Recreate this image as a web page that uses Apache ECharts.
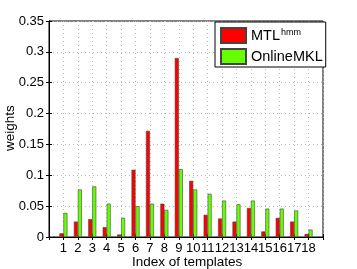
<!DOCTYPE html>
<html><head><meta charset="utf-8">
<script src="https://cdn.jsdelivr.net/npm/echarts@6/dist/echarts.min.js"></script>
<style>html,body{margin:0;padding:0;background:#fff}#c{width:357px;height:269px}</style>
</head><body><div id="c"></div>
<script>
const categories = [1,2,3,4,5,6,7,8,9,10,11,12,13,14,15,16,17,18];
const mtlHmm = [0.006,0.025,0.029,0.016,0.004,0.109,0.172,0.054,0.290,0.091,0.036,0.030,0.025,0.047,0.009,0.031,0.025,0.005];
const onlineMKL = [0.039,0.077,0.082,0.054,0.031,0.050,0.054,0.044,0.110,0.077,0.070,0.059,0.053,0.059,0.046,0.046,0.043,0.012];
const yTicks = [0,0.05,0.1,0.15,0.2,0.25,0.3,0.35];
const xTitle = 'Index of templates';
const yTitle = 'weights';

const font = '"Liberation Sans", Arial, sans-serif';
const chart = echarts.init(document.getElementById('c'), null, {renderer:'canvas'});
const pairs = arr => categories.map((c,i)=>[c, arr[i]]);
const dotted = {show:true, lineStyle:{color:'#bbb', type:[1,3], width:1}};
chart.setOption({
  animation:false,
  backgroundColor:'#fff',
  grid:{left:49, right:34, top:21, bottom:32, containLabel:false, outerBoundsMode:'none',
    show:true, borderColor:'#000', borderWidth:1, backgroundColor:'transparent'},
  graphic:[
    {type:'text', left:132, top:255, style:{text:xTitle, fontFamily:font, fontSize:13.5, fill:'#000'}},
    {type:'text', rotation:Math.PI/2, x:3, y:151, style:{text:yTitle, fontFamily:font, fontSize:13.5, fill:'#000'}}
  ],
  legend:{
    orient:'vertical', left:215, top:22, padding:[5,3,2,5], itemGap:3,
    itemWidth:25, itemHeight:15, icon:'rect',
    borderColor:'#000', borderWidth:1, backgroundColor:'#fff', borderRadius:0,
    textStyle:{fontFamily:font, fontSize:14.5, color:'#000',
      rich:{a:{fontFamily:font,fontSize:14.5,color:'#000',lineHeight:15},
            s:{fontFamily:font,fontSize:9,color:'#000',verticalAlign:'top',lineHeight:9,padding:[0,0,8,1]}}},
    formatter: n => n==='MTL' ? '{a|MTL}{s|hmm}' : '{a|'+n+'}',
    data:['MTL','OnlineMKL']
  },
  xAxis:[{
    type:'value', min:0, max:19, interval:1,
    axisLine:{show:true, lineStyle:{color:'#000'}},
    axisTick:{show:true, inside:true, length:3, lineStyle:{color:'#000'}},
    axisLabel:{fontFamily:font, fontSize:13, color:'#000', margin:5, hideOverlap:false,
      formatter: v => (v>=1 && v<=18) ? String(v) : ''},
    splitLine:dotted
  },{
    type:'value', min:0, max:19, interval:1, position:'top',
    axisLine:{show:true, lineStyle:{color:'#000'}},
    axisTick:{show:true, inside:true, length:3, lineStyle:{color:'#000'}},
    axisLabel:{show:false}, splitLine:{show:false}
  }],
  yAxis:[{
    type:'value', min:0, max:0.35, interval:0.05,
    axisLine:{show:true, lineStyle:{color:'#000'}},
    axisTick:{show:true, inside:true, length:3, lineStyle:{color:'#000'}},
    axisLabel:{fontFamily:font, fontSize:13, color:'#000', margin:5,
      formatter: v => String(+v.toFixed(2))},
    splitLine:dotted
  },{
    type:'value', min:0, max:0.35, interval:0.05, position:'right',
    axisLine:{show:true, lineStyle:{color:'#000'}},
    axisTick:{show:true, inside:true, length:3, lineStyle:{color:'#000'}},
    axisLabel:{show:false}, splitLine:{show:false}
  }],
  series:[
    {name:'MTL', type:'bar', data:pairs(mtlHmm), barWidth:4, barGap:'0%',
     itemStyle:{color:'#ff0000', borderColor:'#444', borderWidth:0.6}},
    {name:'OnlineMKL', type:'bar', data:pairs(onlineMKL), barWidth:4, barGap:'0%',
     itemStyle:{color:'#66ff00', borderColor:'#444', borderWidth:0.6}}
  ]
});
</script></body></html>
